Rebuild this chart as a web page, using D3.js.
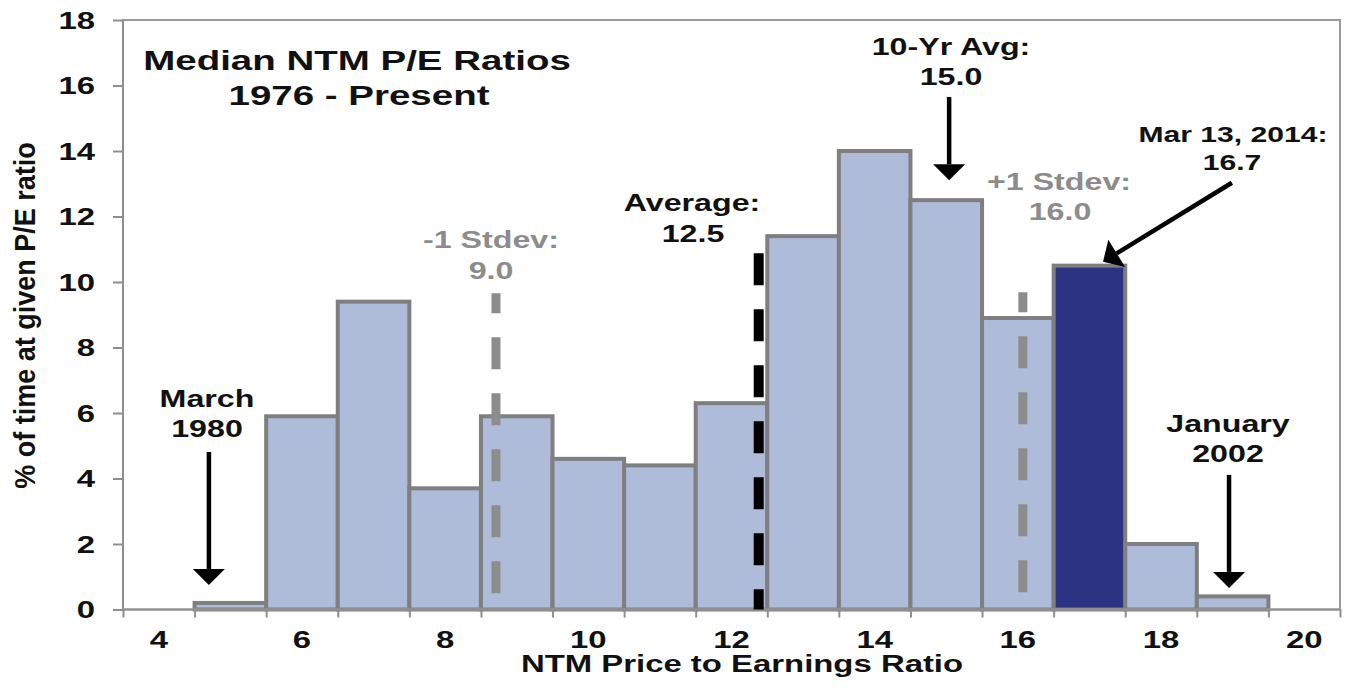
<!DOCTYPE html>
<html><head><meta charset="utf-8">
<script src="https://cdn.jsdelivr.net/npm/d3@7"></script>
<style>
html,body{margin:0;padding:0;background:#fff;}
svg{display:block;}
text{font-family:"Liberation Sans",Arial,Helvetica,sans-serif;font-weight:bold;}
</style></head><body>
<svg id="chart" width="1351" height="691"></svg>
<script>
// ---- data ----
const categories = [4,5,6,7,8,9,10,11,12,13,14,15,16,17,18,19,20];
const tickLabels = [4,6,8,10,12,14,16,18,20];
const yTicks = [0,2,4,6,8,10,12,14,16,18];
const binPE = [5,6,7,8,9,10,11,12,13,14,15,16,17,18,19];
const pctTime = [0.2,5.9,9.4,3.7,5.9,4.6,4.4,6.3,11.4,14.0,12.5,8.9,10.5,2.0,0.4];
const currentBin = 17;

// reference (dashed) lines
const refLabels = ["-1 Stdev:", "Average:", "+1 Stdev:"];
const refValueText = ["9.0", "12.5", "16.0"];
const refPE = [8.71, 12.38, 16.07];
const refTop = [9.66, 10.88, 9.69];
const refBottom = [0.5, 0, 0.5];

// arrows
const arrowNames = ["March 1980", "10-Yr Avg", "Mar 13, 2014", "January 2002"];
const arrowFromPE = [4.70, 15.04, 18.99, 18.95];
const arrowFromPct = [4.81, 15.65, 13.03, 4.11];
const arrowToPE = [4.70, 15.04, 17.19, 18.95];
const arrowToPct = [0.75, 13.11, 10.62, 0.66];

// ---- layout ----
const svg = d3.select("#chart");
const pLeft = 123, pRight = 1340, pTop = 20, pBottom = 609.5;
const SX = 1.4; // horizontal stretch of text in the reference
const gridCol = "#8f8f8f";

const x = d3.scaleBand().domain(categories).range([pLeft, pRight]).padding(0);
const xLin = d3.scaleLinear()
  .domain([categories[0] - 0.5, categories[categories.length - 1] + 0.5])
  .range([pLeft, pRight]);
const y = d3.scaleLinear().domain([0, 18]).range([pBottom, pTop]);

// bars
svg.append("g").selectAll("rect").data(binPE).join("rect")
  .attr("x", d => x(d))
  .attr("width", x.bandwidth())
  .attr("y", (d, i) => y(pctTime[i]))
  .attr("height", (d, i) => pBottom - y(pctTime[i]))
  .attr("fill", d => d === currentBin ? "#2b3382" : "#aebcda")
  .attr("stroke", "#7f7f7f")
  .attr("stroke-width", 4);

// frame
svg.append("rect").attr("x", pLeft).attr("y", pTop)
  .attr("width", pRight - pLeft).attr("height", pBottom - pTop)
  .attr("fill", "none").attr("stroke", "#9a9a9a").attr("stroke-width", 2);

// y axis
const gy = svg.append("g").attr("transform", `translate(${pLeft},0)`)
  .call(d3.axisLeft(y).tickValues(yTicks).tickSize(10).tickPadding(10).tickFormat(d3.format("d")));
gy.select(".domain").remove();
gy.selectAll("line").attr("stroke", gridCol).attr("stroke-width", 2);
gy.selectAll("text").attr("font-size", 23.5).attr("fill", "#111")
  .attr("dy", "0.36em").attr("transform", `scale(${SX},1)`);

// x axis boundary ticks
const bounds = categories.map(c => c - 0.5).concat([categories[categories.length - 1] + 0.5]);
const gxt = svg.append("g").attr("transform", `translate(0,${pBottom})`)
  .call(d3.axisBottom(xLin).tickValues(bounds).tickSize(8).tickFormat(""));
gxt.select(".domain").remove();
gxt.selectAll("line").attr("stroke", gridCol).attr("stroke-width", 2);

// x axis labels
const gx = svg.append("g").attr("transform", `translate(0,${pBottom})`)
  .call(d3.axisBottom(x).tickValues(tickLabels).tickSize(0).tickPadding(22));
gx.select(".domain").remove();
gx.selectAll("text").attr("font-size", 23.5).attr("fill", "#111")
  .attr("transform", `scale(${SX},1)`);

// axis lines
svg.append("line").attr("x1", pLeft).attr("x2", pRight).attr("y1", pBottom).attr("y2", pBottom)
  .attr("stroke", gridCol).attr("stroke-width", 2);
svg.append("line").attr("x1", pLeft).attr("x2", pLeft).attr("y1", pTop).attr("y2", pBottom)
  .attr("stroke", gridCol).attr("stroke-width", 2);

// reference dashed lines
const refColor = ["#8c8c8c", "#000", "#8c8c8c"];
const refWidth = [9, 10, 9];
const refOffset = [12, 0, 12];
refPE.forEach((p, i) => {
  svg.append("line")
    .attr("x1", xLin(p)).attr("x2", xLin(p))
    .attr("y1", y(refTop[i])).attr("y2", y(refBottom[i]))
    .attr("stroke", refColor[i]).attr("stroke-width", refWidth[i])
    .attr("stroke-dasharray", "32,24").attr("stroke-dashoffset", refOffset[i]);
});

// arrows
arrowNames.forEach((n, i) => {
  const x1 = xLin(arrowFromPE[i]), y1 = y(arrowFromPct[i]);
  const x2 = xLin(arrowToPE[i]), y2 = y(arrowToPct[i]);
  const dx = x2 - x1, dy = y2 - y1, L = Math.hypot(dx, dy);
  const ux = dx / L, uy = dy / L, nx = -uy, ny = ux;
  const hl = 16, hw = 16;
  const bx = x2 - ux * hl, by = y2 - uy * hl;
  svg.append("line").attr("x1", x1).attr("y1", y1).attr("x2", bx).attr("y2", by)
    .attr("stroke", "#000").attr("stroke-width", 4.5);
  svg.append("polygon")
    .attr("points", [[x2, y2], [bx + nx * hw, by + ny * hw], [bx - nx * hw, by - ny * hw]].map(p => p.join(",")).join(" "))
    .attr("fill", "#000");
});

// texts
function txt(xp, yp, s, size, color) {
  svg.append("text")
    .attr("transform", `translate(${xp},${yp}) scale(${SX},1)`)
    .attr("text-anchor", "middle")
    .attr("font-size", size)
    .attr("fill", color || "#111")
    .text(s);
}
txt(357, 70, "Median NTM P/E Ratios", 27.5);
txt(359, 105, "1976 - Present", 27.5);
txt(951, 55, "10-Yr Avg:", 23);
txt(951, 85, "15.0", 23);
txt(1233, 141.5, "Mar 13, 2014:", 21.5);
txt(1232, 170, "16.7", 21.5);
txt(1059, 190, refLabels[2], 23, "#8c8c8c");
txt(1060, 220, refValueText[2], 23, "#8c8c8c");
txt(692, 210.5, refLabels[1], 23);
txt(693, 241.5, refValueText[1], 23);
txt(491, 248, refLabels[0], 23, "#8c8c8c");
txt(491, 278.5, refValueText[0], 23, "#8c8c8c");
txt(207, 407, "March", 23);
txt(207, 437, "1980", 23);
txt(1228, 432, "January", 23);
txt(1228, 462, "2002", 23);

// axis titles
txt(742, 672, "NTM Price to Earnings Ratio", 23.5);
svg.append("text")
  .attr("transform", "translate(35,315.5) rotate(-90) scale(1,1.1)")
  .attr("text-anchor", "middle")
  .attr("font-size", 27)
  .attr("fill", "#111")
  .text("% of time at given P/E ratio");
</script>
</body></html>
